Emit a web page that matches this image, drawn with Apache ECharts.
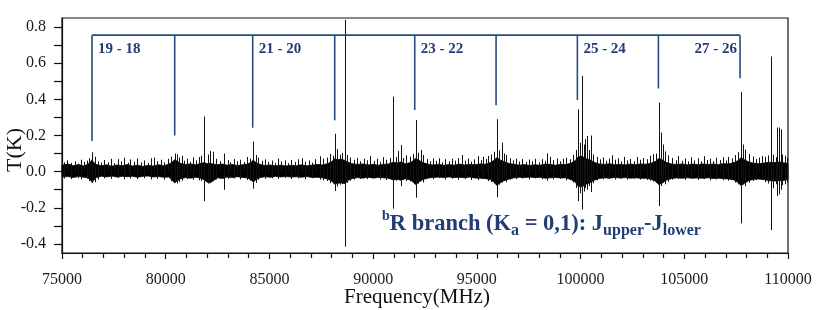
<!DOCTYPE html>
<html><head><meta charset="utf-8">
<script src="https://cdn.jsdelivr.net/npm/echarts@6/dist/echarts.min.js"></script>
<style>html,body{margin:0;padding:0;background:#fff}#c{width:822px;height:310px}</style>
</head><body><div id="c"></div>
<script>
// ---- tick labels ----
const xTickLabels = [75000, 80000, 85000, 90000, 95000, 100000, 105000, 110000];
const yTickValues = [-0.4, -0.3, -0.2, -0.1, 0.0, 0.1, 0.2, 0.3, 0.4, 0.5, 0.6, 0.7, 0.8];
const yLabelValues = [-0.4, -0.2, 0.0, 0.2, 0.4, 0.6, 0.8];

// ---- noise band envelope (MHz, K) ----
const bandFreq = [
  75000,75300,75550,75800,76050,76250,76380,76450,76520,76650,
  76900,77150,77400,77650,77900,78150,78400,78650,78900,79150,
  79400,79650,79900,80150,80330,80430,80550,80700,80950,81200,
  81450,81700,81860,82000,82150,82300,82500,82750,82950,83200,
  83450,83700,83950,84120,84220,84350,84550,84800,85050,85300,
  85550,85800,86050,86300,86550,86800,87050,87300,87550,87800,
  88000,88150,88300,88450,88640,88800,89000,89250,89500,89750,
  90000,90250,90500,90750,90970,91150,91330,91550,91800,91950,
  92050,92200,92400,92650,92900,93150,93400,93650,93900,94150,
  94400,94650,94900,95150,95400,95650,95850,95960,96100,96300,
  96550,96800,97050,97300,97550,97800,98050,98300,98550,98800,
  99050,99300,99550,99750,99890,100080,100250,100450,100650,100900,
  101150,101400,101650,101900,102150,102400,102650,102900,103150,103400,
  103600,103780,103950,104150,104400,104650,104900,105150,105400,105650,
  105900,106150,106400,106650,106900,107150,107400,107600,107740,107900,
  108100,108350,108600,108850,109100,109350,109600,109850,110000];
const bandUpper = [
  0.036,0.042,0.033,0.039,0.031,0.041,0.055,0.066,0.052,0.040,
  0.033,0.038,0.030,0.037,0.032,0.040,0.031,0.036,0.029,0.035,
  0.031,0.038,0.033,0.041,0.055,0.066,0.058,0.047,0.040,0.043,
  0.038,0.046,0.050,0.044,0.047,0.041,0.039,0.042,0.036,0.040,
  0.034,0.038,0.042,0.052,0.064,0.050,0.040,0.034,0.037,0.032,
  0.036,0.031,0.035,0.033,0.038,0.032,0.036,0.040,0.037,0.044,
  0.055,0.072,0.066,0.070,0.062,0.052,0.044,0.040,0.043,0.037,
  0.041,0.036,0.040,0.043,0.052,0.048,0.054,0.044,0.050,0.062,
  0.075,0.063,0.050,0.041,0.037,0.041,0.035,0.039,0.036,0.042,
  0.037,0.040,0.038,0.043,0.041,0.050,0.064,0.078,0.066,0.056,
  0.045,0.041,0.036,0.039,0.034,0.038,0.035,0.042,0.040,0.036,
  0.041,0.039,0.048,0.062,0.082,0.085,0.072,0.066,0.052,0.043,
  0.040,0.044,0.038,0.041,0.037,0.042,0.039,0.043,0.041,0.047,
  0.056,0.074,0.064,0.050,0.042,0.040,0.043,0.038,0.042,0.039,
  0.043,0.040,0.042,0.040,0.044,0.043,0.050,0.062,0.078,0.066,
  0.054,0.047,0.044,0.048,0.052,0.050,0.053,0.048,0.046];
const bandLower = [
  -0.030,-0.027,-0.033,-0.026,-0.031,-0.034,-0.048,-0.060,-0.050,-0.033,
  -0.025,-0.029,-0.024,-0.030,-0.026,-0.028,-0.025,-0.031,-0.026,-0.024,
  -0.029,-0.027,-0.031,-0.030,-0.050,-0.062,-0.052,-0.040,-0.033,-0.036,
  -0.031,-0.037,-0.045,-0.058,-0.062,-0.050,-0.034,-0.038,-0.030,-0.033,
  -0.028,-0.032,-0.035,-0.046,-0.058,-0.044,-0.033,-0.028,-0.031,-0.026,
  -0.029,-0.027,-0.030,-0.028,-0.031,-0.027,-0.032,-0.031,-0.034,-0.040,
  -0.052,-0.070,-0.064,-0.062,-0.066,-0.048,-0.038,-0.033,-0.036,-0.031,
  -0.035,-0.032,-0.034,-0.037,-0.046,-0.042,-0.047,-0.039,-0.046,-0.060,
  -0.072,-0.058,-0.044,-0.035,-0.032,-0.030,-0.033,-0.029,-0.033,-0.031,
  -0.034,-0.030,-0.035,-0.036,-0.038,-0.044,-0.060,-0.076,-0.064,-0.050,
  -0.041,-0.034,-0.031,-0.033,-0.030,-0.033,-0.031,-0.036,-0.034,-0.032,
  -0.035,-0.034,-0.045,-0.058,-0.082,-0.084,-0.070,-0.062,-0.048,-0.038,
  -0.034,-0.036,-0.032,-0.035,-0.033,-0.036,-0.034,-0.037,-0.036,-0.042,
  -0.052,-0.072,-0.062,-0.046,-0.038,-0.034,-0.037,-0.034,-0.036,-0.035,
  -0.037,-0.034,-0.038,-0.036,-0.039,-0.040,-0.046,-0.060,-0.078,-0.064,
  -0.050,-0.042,-0.041,-0.044,-0.050,-0.052,-0.050,-0.047,-0.044];

// ---- individual lines and spikes (MHz, top K, bottom K) ----
const spikeFreq = [
  76446,80433,81861,82150,82300,82810,84223,88148,88643,90972,
  91213,91329,92052,92308,95957,96198,96323,99891,100084,100214,
  100325,100489,103782,103860,103950,107735,107846,109181,109455,109580,
  109650,75120,75260,75430,75610,75770,75930,76080,76210,76300,
  76600,76720,76880,77030,77210,77340,77520,77690,77830,78010,
  78160,78290,78470,78610,78800,78960,79130,79290,79440,79600,
  79780,79930,80090,80260,80560,80650,80780,80900,81040,81180,
  81330,81470,81600,81720,82040,82430,82600,82990,83120,83280,
  83430,83590,83760,83900,84050,84330,84460,84620,84780,84940,
  85110,85290,85430,85580,85740,85900,86060,86210,86380,86560,
  86720,86890,87060,87200,87440,87600,87760,87930,88060,88260,
  88380,88520,88760,88900,89060,89220,89390,89560,89720,89860,
  90020,90170,90330,90480,90620,90800,91080,91450,91600,91760,
  91900,92180,92420,92580,92760,92880,93050,93190,93330,93480,
  93640,93790,93950,94100,94270,94420,94570,94720,94880,95070,
  95210,95310,95440,95550,95700,95820,96080,96420,96600,96730,
  96880,97040,97190,97350,97500,97660,97820,97980,98140,98270,
  98370,98520,98680,98840,99000,99150,99320,99480,99640,99790,
  99990,100150,100400,100620,100780,100930,101080,101240,101390,101510,
  101660,101820,101960,102070,102230,102390,102560,102710,102870,103020,
  103180,103330,103480,103630,104050,104230,104420,104580,104720,104870,
  105020,105180,105330,105490,105640,105790,105930,106080,106240,106400,
  106540,106700,106850,107000,107130,107290,107450,107580,107950,108120,
  108300,108460,108600,108733,108880,109020,109300,109420,109720,109860,
  109960];
const spikeTop = [
  0.107,0.100,0.305,0.114,0.110,0.100,0.166,0.210,0.840,0.415,
  0.114,0.147,0.286,0.120,0.290,0.160,0.100,0.345,0.530,0.180,
  0.197,0.200,0.382,0.216,0.150,0.440,0.150,0.637,0.244,0.244,
  0.234,0.052,0.063,0.048,0.058,0.045,0.066,0.054,0.061,0.074,
  0.082,0.057,0.050,0.064,0.052,0.071,0.047,0.069,0.056,0.077,
  0.049,0.068,0.055,0.073,0.051,0.062,0.048,0.074,0.078,0.058,
  0.066,0.052,0.071,0.083,0.096,0.078,0.088,0.061,0.072,0.055,
  0.079,0.063,0.081,0.088,0.095,0.071,0.058,0.064,0.052,0.070,
  0.058,0.066,0.054,0.081,0.072,0.092,0.078,0.060,0.068,0.053,
  0.061,0.049,0.072,0.056,0.062,0.047,0.065,0.054,0.069,0.074,
  0.055,0.062,0.050,0.069,0.085,0.072,0.078,0.098,0.088,0.125,
  0.094,0.104,0.092,0.078,0.066,0.076,0.058,0.072,0.063,0.087,
  0.060,0.072,0.055,0.080,0.066,0.076,0.082,0.076,0.090,0.083,
  0.098,0.105,0.092,0.070,0.058,0.073,0.060,0.074,0.052,0.069,
  0.057,0.072,0.061,0.075,0.092,0.061,0.073,0.055,0.068,0.086,
  0.064,0.082,0.070,0.087,0.095,0.110,0.118,0.092,0.074,0.062,
  0.072,0.056,0.070,0.053,0.067,0.058,0.071,0.052,0.069,0.060,
  0.101,0.082,0.064,0.073,0.058,0.071,0.077,0.069,0.094,0.120,
  0.160,0.150,0.120,0.095,0.082,0.068,0.078,0.060,0.072,0.091,
  0.066,0.074,0.057,0.082,0.063,0.070,0.058,0.081,0.066,0.075,
  0.069,0.088,0.097,0.100,0.112,0.090,0.076,0.063,0.087,0.060,
  0.073,0.057,0.079,0.062,0.074,0.058,0.086,0.064,0.072,0.059,
  0.077,0.064,0.080,0.062,0.082,0.074,0.092,0.108,0.122,0.098,
  0.084,0.070,0.078,0.086,0.082,0.090,0.094,0.080,0.095,0.088,
  0.078];
const spikeBottom = [
  -0.062,-0.060,-0.163,-0.050,-0.040,-0.100,-0.094,-0.107,-0.415,-0.205,
  -0.040,-0.080,-0.144,-0.050,-0.142,-0.060,-0.040,-0.163,-0.210,-0.090,
  -0.100,-0.113,-0.190,-0.080,-0.060,-0.286,-0.070,-0.323,-0.135,-0.126,
  -0.100,-0.038,0,-0.041,0,-0.036,-0.043,0,-0.039,-0.052,
  -0.058,-0.044,0,-0.037,0,-0.040,0,-0.035,0,-0.042,
  0,-0.038,0,-0.041,0,-0.036,0,-0.043,0,-0.039,
  0,-0.044,0,-0.052,-0.066,-0.058,-0.050,0,-0.041,0,
  -0.045,0,-0.048,-0.052,-0.066,-0.043,0,-0.040,0,-0.038,
  0,-0.042,0,-0.046,-0.050,-0.062,-0.045,0,-0.039,0,
  -0.036,0,-0.040,0,-0.035,0,-0.041,0,-0.037,0,
  -0.042,0,-0.036,0,-0.044,-0.048,-0.052,-0.064,-0.058,-0.082,
  -0.072,-0.068,-0.062,-0.050,-0.044,0,-0.040,0,-0.042,0,
  -0.038,0,-0.044,0,-0.046,-0.041,-0.050,-0.046,-0.052,-0.054,
  -0.062,-0.066,-0.060,-0.040,0,-0.042,0,-0.036,0,-0.043,
  0,-0.039,0,-0.044,0,-0.041,0,-0.046,0,-0.047,
  0,-0.040,0,-0.052,-0.058,-0.066,-0.072,-0.058,-0.044,0,
  -0.041,0,-0.038,0,-0.043,0,-0.037,0,-0.042,0,
  -0.050,0,-0.043,0,-0.040,0,-0.048,0,-0.060,-0.090,
  -0.120,-0.110,-0.080,-0.064,-0.048,0,-0.042,0,-0.041,0,
  -0.044,0,-0.039,0,-0.043,0,-0.040,0,-0.044,0,
  -0.046,-0.050,-0.055,-0.060,-0.070,-0.056,-0.044,0,-0.040,0,
  -0.045,0,-0.039,0,-0.046,0,-0.041,0,-0.048,0,
  -0.043,0,-0.047,0,-0.050,-0.046,-0.060,-0.070,-0.080,-0.062,
  -0.052,-0.046,0,-0.045,-0.058,-0.066,-0.092,-0.070,-0.075,-0.070,
  -0.060];

// ---- assignment bracket ----
const bracketFreq = [76446, 80433, 84194, 88148, 92005, 95926, 99846, 103752, 107689];
const bracketEnd = [0.170, 0.200, 0.243, 0.284, 0.341, 0.367, 0.397, 0.460, 0.517];
const bracketTop = [0.755];
const bracketLabels = ['19 - 18', '', '21 - 20', '', '23 - 22', '', '25 - 24', '', '27 - 26'];

const SERIF = '"Liberation Serif","Times New Roman",serif';
const BLUE = '#2a4a80';
const TXTBLUE = '#213d74';

const chart = echarts.init(document.getElementById('c'), null, {renderer: 'canvas'});

const option = {
  animation: false,
  backgroundColor: '#fff',
  grid: {left: 62, right: 34, top: 18, bottom: 57, show: true, borderColor: '#111', borderWidth: 1.2, backgroundColor: 'transparent'},
  xAxis: {
    type: 'value', min: 75000, max: 110000, interval: 5000,
    axisLine: {show: true, onZero: false, lineStyle: {color: '#111', width: 1.2}},
    axisTick: {show: true, inside: false, length: 6, lineStyle: {color: '#111', width: 1.2}},
    minorTick: {show: true, splitNumber: 5, length: 5, lineStyle: {color: '#111', width: 1.2}},
    splitLine: {show: false},
    axisLabel: {customValues: xTickLabels, formatter: v => String(v), margin: 19, fontFamily: SERIF, fontSize: 16, color: '#1a1a1a'}
  },
  yAxis: {
    type: 'value', min: -0.45, max: 0.85,
    axisLine: {show: true, onZero: false, lineStyle: {color: '#111', width: 1.2}},
    axisTick: {show: true, inside: false, length: 8, customValues: yTickValues, lineStyle: {color: '#111', width: 1.2}},
    splitLine: {show: false},
    axisLabel: {customValues: yLabelValues, formatter: v => v.toFixed(1), margin: 16, fontFamily: SERIF, fontSize: 16, color: '#1a1a1a'}
  },
  series: [
    {
      // noise band drawn as one filled polygon from the envelope arrays
      type: 'custom', silent: true,
      data: [[bandFreq[0], 0]],
      encode: {x: 0, y: 1},
      renderItem: (params, api) => {
        const up = bandFreq.map((f, i) => api.coord([f, bandUpper[i]]));
        const lo = bandFreq.map((f, i) => api.coord([f, bandLower[i]])).reverse();
        return {type: 'polygon', shape: {points: up.concat(lo)}, style: {fill: '#000', stroke: '#000', lineWidth: 0.8}};
      }
    },
    {
      type: 'custom', silent: true,
      data: spikeFreq.map((f, i) => [f, spikeTop[i], spikeBottom[i]]),
      encode: {x: 0, y: [1, 2]},
      renderItem: (params, api) => {
        const a = api.coord([api.value(0), api.value(1)]);
        const b = api.coord([api.value(0), api.value(2)]);
        const x = Math.round(a[0]) + 0.5;
        return {type: 'line', shape: {x1: x, y1: a[1], x2: x, y2: b[1]}, style: {stroke: '#111', lineWidth: 1}};
      }
    },
    {
      type: 'line', symbol: 'none', silent: true,
      data: [[bracketFreq[0], bracketTop[0]], [bracketFreq[bracketFreq.length - 1], bracketTop[0]]],
      lineStyle: {color: BLUE, width: 1.6}
    },
    {
      type: 'custom', silent: true,
      data: bracketFreq.map((f, i) => [f, bracketEnd[i]]),
      encode: {x: 0, y: 1},
      renderItem: (params, api) => {
        const i = params.dataIndex;
        const t = api.coord([api.value(0), bracketTop[0]]);
        const e = api.coord([api.value(0), api.value(1)]);
        const children = [{type: 'line', shape: {x1: t[0], y1: t[1], x2: e[0], y2: e[1]}, style: {stroke: BLUE, lineWidth: 1.6}}];
        const label = bracketLabels[i];
        if (label) {
          const last = i === bracketFreq.length - 1;
          children.push({
            type: 'text', x: t[0] + (last ? -3 : 6), y: t[1] + 13.5,
            style: {text: label, font: 'bold 15px ' + SERIF, fill: TXTBLUE, align: last ? 'right' : 'left', verticalAlign: 'middle'}
          });
        }
        return {type: 'group', children: children};
      }
    }
  ],
  graphic: [
    {type: 'text', x: 15, y: 150, rotation: Math.PI / 2,
     style: {text: 'T(K)', font: '22px ' + SERIF, fill: '#111', align: 'center', verticalAlign: 'middle'}},
    {type: 'text', x: 417, y: 297,
     style: {text: 'Frequency(MHz)', font: '21px ' + SERIF, fill: '#111', align: 'center', verticalAlign: 'middle'}},
    {type: 'text', x: 382, y: 209,
     style: {
       text: '{sup|b}{m|R branch (K}{sub|a}{m| = 0,1): J}{sub|upper}{m|-J}{sub|lower}',
       fill: TXTBLUE, align: 'left', verticalAlign: 'top',
       rich: {
         m: {fontFamily: SERIF, fontWeight: 'bold', fontSize: 22.5, lineHeight: 30, fill: TXTBLUE, color: TXTBLUE},
         sup: {fontFamily: SERIF, fontWeight: 'bold', fontSize: 14, lineHeight: 14, verticalAlign: 'top', fill: TXTBLUE, color: TXTBLUE},
         sub: {fontFamily: SERIF, fontWeight: 'bold', fontSize: 16, lineHeight: 15, verticalAlign: 'bottom', fill: TXTBLUE, color: TXTBLUE}
       }
     }}
  ]
};
chart.setOption(option);
</script>
</body></html>
